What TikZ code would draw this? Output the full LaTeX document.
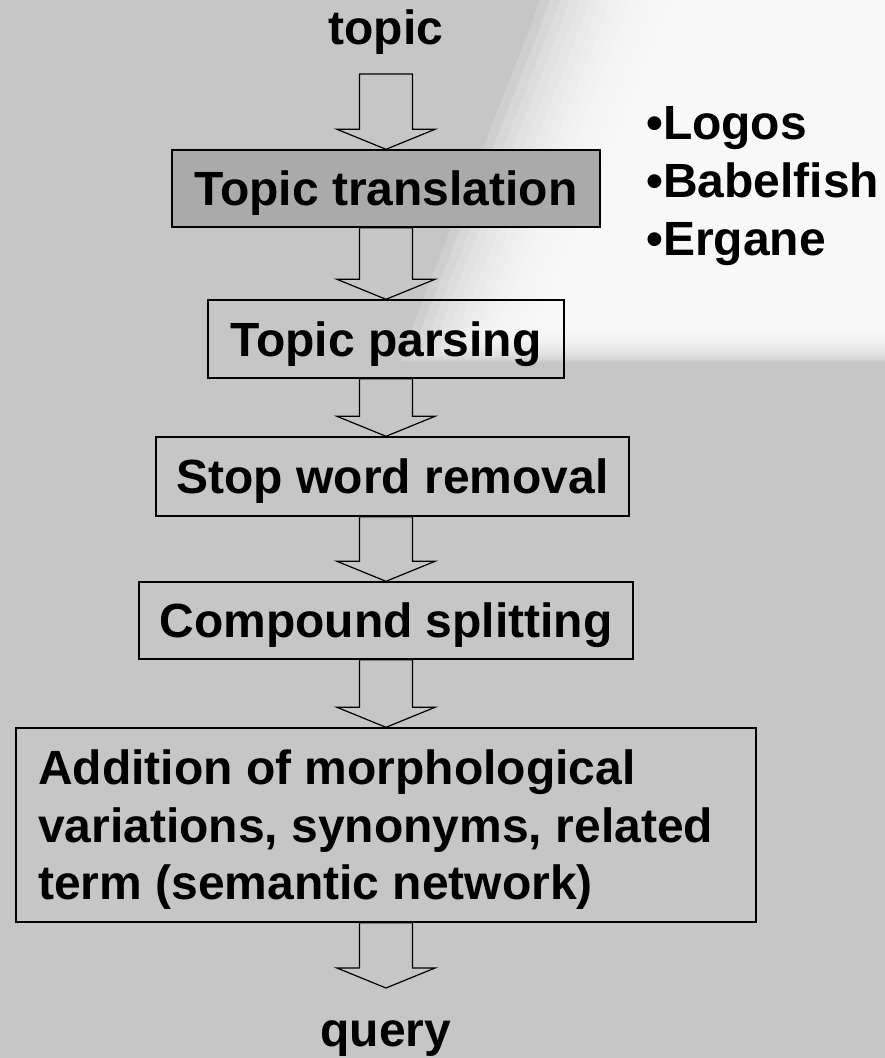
\documentclass[tikz,border=0pt]{standalone}
\usepackage{fontspec}
\setmainfont{Liberation Sans}
\usetikzlibrary{calc}
\definecolor{bgcol}{RGB}{198,198,198}
\definecolor{boxfill}{RGB}{170,170,170}
\setlength{\lineskiplimit}{-100pt}
\newcommand{\blockarr}[2]{%
  \path (#1 -| ax) coordinate (bs) (#2 -| ax) coordinate (bt);
  \draw[blockarrow] ([xshift=-26.5pt]bs) -- ([xshift=-26.5pt,yshift=20pt]bt) -- ([xshift=-49pt,yshift=20pt]bt) -- (bt) -- ([xshift=49pt,yshift=20pt]bt) -- ([xshift=26.5pt,yshift=20pt]bt) -- ([xshift=26.5pt]bs) -- cycle;}
\begin{document}
\begin{tikzpicture}[x=1pt,y=-1pt,
  every node/.style={font=\bfseries\fontsize{48}{58}\selectfont, inner sep=0pt},
  procbox/.style={draw=black, line width=1.4pt, minimum height=78pt, text height=34pt, text depth=0pt},
  blockarrow/.style={draw=black, line width=1.2pt, line join=miter},
  listtext/.style={font=\bfseries\fontsize{48}{58}\selectfont, align=left, anchor=north west},
  longtext/.style={font=\bfseries\fontsize{48}{57.5}\selectfont, align=left, anchor=north west}
]
\useasboundingbox (0,0) rectangle (885,1058);
\fill[bgcol] (0,0) rectangle (885,1058);
% soft white swoosh in the upper right
\foreach \i in {0,...,13}{
  \fill[white, opacity=0.17]
    ({540+10*\i},0) -- (885,0) -- (885,{362-2.5*\i}) -- ({400+10*\i},{362-2.5*\i})
    .. controls ({440+10*\i},250) and ({500+10*\i},110) .. ({540+10*\i},0) -- cycle;
}

\coordinate (ax) at (386,0);
\node[anchor=base] (topic) at (386,44) {topic};
\coordinate (a1top) at (386,74);

\node[procbox, fill=boxfill, minimum width=428pt, minimum height=77pt] (b1) at (386,188.5) {Topic translation};
\node[procbox, minimum width=356pt] (b2) at (386,339) {Topic parsing};
\node[procbox, minimum width=473pt, minimum height=79pt] (b3) at (392.5,476.5) {Stop word removal};
\node[procbox, minimum width=494pt, minimum height=77pt] (b4) at (386,620.5) {Compound splitting};
\node[draw=black, line width=1.4pt, minimum width=740pt, minimum height=194pt] (b5) at (386,825) {};
\node[longtext] (t5) at (38,750) {Addition of morphological\\variations, synonyms, related\\term (semantic network)};

\coordinate (qtip) at (386,988);
\node[anchor=base] (query) at (386,1046) {query};

\node[listtext] (tools) at (646,106) {•Logos\\•Babelfish\\•Ergane};

\blockarr{a1top}{b1.north}
\blockarr{b1.south}{b2.north}
\blockarr{b2.south}{b3.north}
\blockarr{b3.south}{b4.north}
\blockarr{b4.south}{b5.north}
\blockarr{b5.south}{qtip}
\end{tikzpicture}
\end{document}
